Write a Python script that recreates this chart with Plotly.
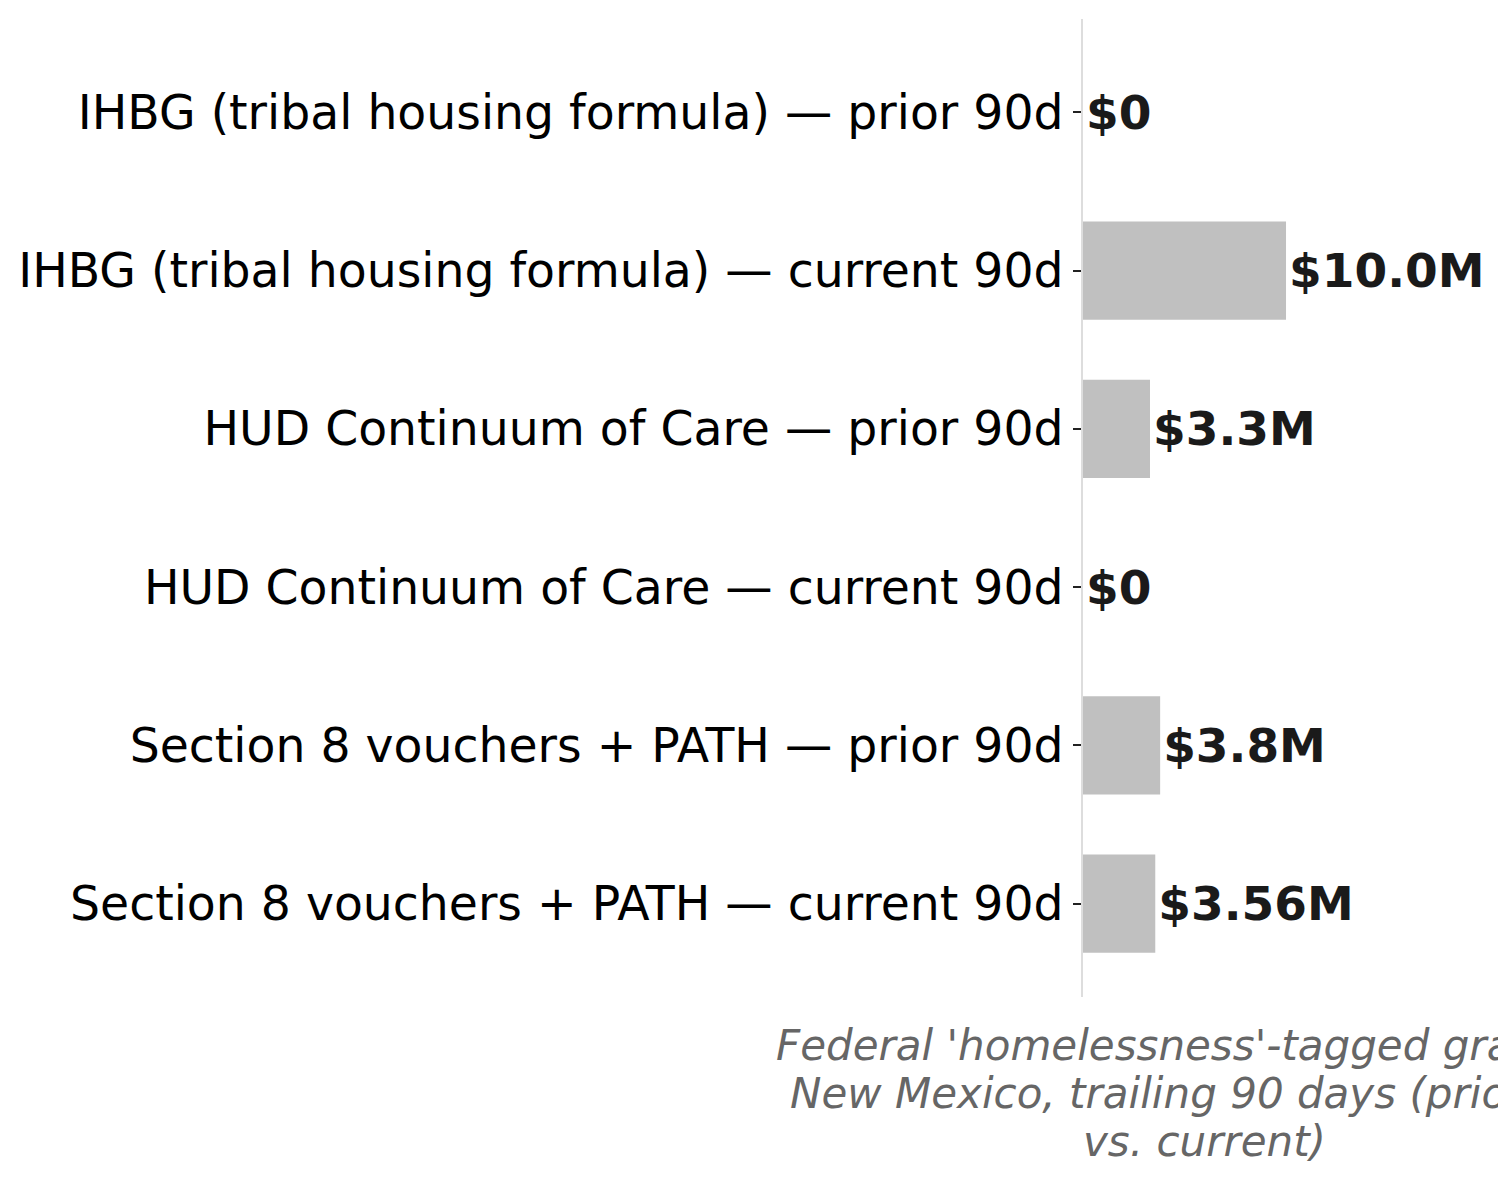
import plotly.graph_objects as go

categories = [
    "IHBG (tribal housing formula) — prior 90d",
    "IHBG (tribal housing formula) — current 90d",
    "HUD Continuum of Care — prior 90d",
    "HUD Continuum of Care — current 90d",
    "Section 8 vouchers + PATH — prior 90d",
    "Section 8 vouchers + PATH — current 90d",
]
values = [0, 10.0e6, 3.3e6, 0, 3.8e6, 3.56e6]
value_labels = ["$0", "$10.0M", "$3.3M", "$0", "$3.8M", "$3.56M"]
axis_title_lines = [
    "Federal 'homelessness'-tagged grants to",
    "New Mexico, trailing 90 days (prior 90d",
    "vs. current)",
]

FONT = "DejaVu Sans"

fig = go.Figure(
    go.Bar(
        x=values,
        y=categories,
        orientation="h",
        marker=dict(color="#c0c0c0", line=dict(width=0)),
        width=0.62,
        text=value_labels,
        textposition="outside",
        cliponaxis=False,
        textfont=dict(family=FONT, size=47, color="#1a1a1a", weight="bold"),
        hoverinfo="skip",
    )
)

fig.update_layout(
    width=1498,
    height=1168,
    paper_bgcolor="white",
    plot_bgcolor="white",
    showlegend=False,
    margin=dict(l=1075, r=181, t=11, b=179),
    font=dict(family=FONT, color="#000000"),
)

fig.update_xaxes(
    range=[0, 11.92e6],
    showgrid=False,
    zeroline=False,
    showline=False,
    showticklabels=False,
    ticks="",
)

fig.update_yaxes(
    type="category",
    categoryorder="array",
    categoryarray=categories,
    range=[5.59, -0.59],
    showgrid=False,
    zeroline=False,
    showline=True,
    linecolor="#dddddd",
    linewidth=2,
    ticks="outside",
    ticklen=8,
    tickwidth=2,
    tickcolor="#222222",
    tickfont=dict(family=FONT, size=47.3, color="#000000"),
)

# x-axis title, one line per annotation to reproduce the tighter line spacing
for i, line in enumerate(axis_title_lines):
    fig.add_annotation(
        text=line,
        xref="paper", yref="paper",
        x=0.5, y=0,
        xanchor="center", yanchor="middle",
        yshift=-48 - 48 * i,
        showarrow=False,
        font=dict(family=FONT, size=42, color="#666666", style="italic"),
    )

fig.write_html("out.html")
